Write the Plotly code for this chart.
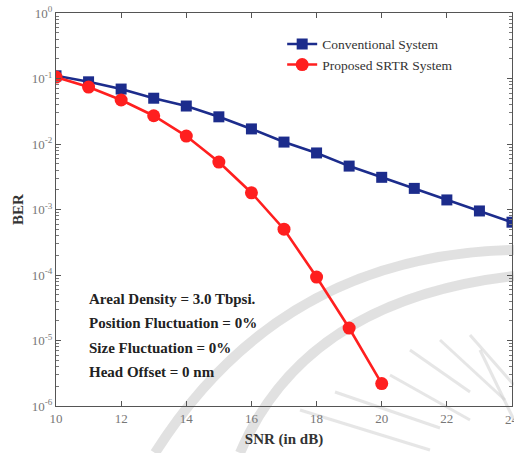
import plotly.graph_objects as go

# SNR sweep (dB) and bit error rates for both detection schemes
snr_conv = [10, 11, 12, 13, 14, 15, 16, 17, 18, 19, 20, 21, 22, 23, 24]
ber_conv = [0.11, 0.089, 0.069, 0.05, 0.038, 0.026, 0.017, 0.0107, 0.0073,
            0.0046, 0.0031, 0.0021, 0.00140, 0.00095, 0.00064]

snr_srtr = [10, 11, 12, 13, 14, 15, 16, 17, 18, 19, 20]
ber_srtr = [0.105, 0.074, 0.047, 0.027, 0.0132, 0.0053, 0.0018, 0.0005,
            9.3e-5, 1.55e-5, 2.2e-6]

series_names = ["Conventional System", "Proposed SRTR System"]
x_ticks = [10, 12, 14, 16, 18, 20, 22, 24]
y_exponents = [0, -1, -2, -3, -4, -5, -6]
info_lines = ["Areal Density = 3.0 Tbpsi.", "Position Fluctuation = 0%",
              "Size Fluctuation = 0%", "Head Offset = 0 nm"]

SERIF = "Liberation Serif, Times New Roman, serif"
BLUE = "#1c2c8c"
RED = "#ff1f1f"

fig = go.Figure()
fig.add_trace(go.Scatter(
    x=snr_conv, y=ber_conv, name=series_names[0], mode="lines+markers",
    line=dict(color=BLUE, width=2.6),
    marker=dict(symbol="square", size=11, color=BLUE),
))
fig.add_trace(go.Scatter(
    x=snr_srtr, y=ber_srtr, name=series_names[1], mode="lines+markers",
    line=dict(color=RED, width=2.6),
    marker=dict(symbol="circle", size=13, color=RED),
))

# Plot-area pixel geometry used to place paper-referenced decorations
L, R, T, B = 56, 512, 13, 406


def px(x, y):
    return (x - L) / (R - L), (B - y) / (B - T)


def qpath(p0, c, p1):
    a, b, d = px(*p0), px(*c), px(*p1)
    return f"M {a[0]},{a[1]} Q {b[0]},{b[1]} {d[0]},{d[1]}"


def lpath(p0, p1):
    a, d = px(*p0), px(*p1)
    return f"M {a[0]},{a[1]} L {d[0]},{d[1]}"


shapes = []
# faint emblem in the lower right
for p0, c, p1 in [((155, 453), (280, 255), (514, 250)),
                  ((240, 453), (305, 300), (514, 276))]:
    shapes.append(dict(type="path", xref="paper", yref="paper", layer="below",
                       path=qpath(p0, c, p1),
                       line=dict(color="rgba(205,205,205,0.6)", width=10)))
for p0, p1 in [((410, 350), (470, 392)), ((440, 340), (505, 400)),
               ((470, 335), (514, 385)), ((480, 350), (514, 420)),
               ((335, 392), (440, 428)), ((300, 410), (430, 450)),
               ((390, 375), (470, 420))]:
    shapes.append(dict(type="path", xref="paper", yref="paper", layer="below",
                       path=lpath(p0, p1),
                       line=dict(color="rgba(205,205,205,0.5)", width=3)))

annotations = []
for i, txt in enumerate(info_lines):
    annotations.append(dict(
        text=f"<b>{txt}</b>", xref="x", yref="paper", x=10.95,
        y=0.272 - i * 0.0618, xanchor="left", yanchor="middle", showarrow=False,
        font=dict(family=SERIF, size=15, color="#222"),
    ))
# last x tick label sits on the figure edge and is partly cut off
annotations.append(dict(
    text=str(x_ticks[-1]), xref="x", yref="paper", x=x_ticks[-1], y=0,
    yshift=-4, xanchor="center", yanchor="top", showarrow=False,
    font=dict(family=SERIF, size=13, color="#777"),
))

axis_common = dict(
    showline=True, linecolor="#555", linewidth=1, mirror="ticks",
    ticks="inside", ticklen=5, tickcolor="#555", showgrid=False,
    zeroline=False, tickfont=dict(family=SERIF, size=13, color="#777"),
)

fig.update_layout(
    width=514, height=453,
    margin=dict(l=L, r=514 - R, t=T, b=453 - B),
    paper_bgcolor="white", plot_bgcolor="white",
    shapes=shapes, annotations=annotations,
    legend=dict(x=0.496, y=0.96, xanchor="left", yanchor="top",
                bgcolor="rgba(0,0,0,0)", tracegroupgap=0, itemwidth=30,
                font=dict(family=SERIF, size=13.5, color="#333")),
    xaxis=dict(range=[10, 24], tickvals=x_ticks[:-1],
               title=dict(text="<b>SNR (in dB)</b>", standoff=8,
                          font=dict(family=SERIF, size=15, color="#333")),
               **axis_common),
    yaxis=dict(type="log", range=[-6, 0],
               tickvals=[10.0 ** e for e in y_exponents],
               ticktext=[f"10<sup>{e}</sup>" for e in y_exponents],
               minor=dict(ticks="inside", ticklen=3, tickcolor="#777",
                          tickvals=[m * 10.0 ** e for e in y_exponents[1:]
                                    for m in range(2, 10)]),
               title=dict(text="<b>BER</b>", standoff=4,
                          font=dict(family=SERIF, size=15, color="#333")),
               **axis_common),
)

fig.write_html("out.html")
